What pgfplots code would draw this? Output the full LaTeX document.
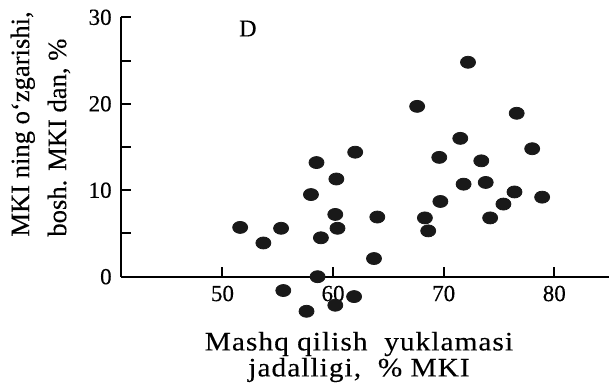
\documentclass[border=0pt]{standalone}
\usepackage{pgfplots}
\pgfplotsset{compat=1.18}
\usepackage{fontspec}
\setmainfont{Liberation Serif}[FakeBold=0.3]
\newfontfamily\xlabfont{Liberation Serif}[FakeStretch=1.1, LetterSpace=4, FakeBold=0.3]
\begin{document}
\begin{tikzpicture}
\path[use as bounding box] (0,0) rectangle (304.5pt,192.5pt);
\begin{axis}[
  at={(60.35pt,54.15pt)}, anchor=south west,
  scale only axis, width=243.9pt, height=129.7pt,
  xmin=40.8, xmax=84.9, ymin=0, ymax=30,
  axis x line=bottom, axis y line=left,
  axis line style={-, line width=1pt, black},
  tick style={line width=1pt, black},
  tick align=inside,
  major tick length=5pt, minor tick length=5pt,
  xtick={50,60,70,80}, ytick={0,10,20,30}, minor ytick={5,15,25},
  clip=false,
  /pgf/number format/assume math mode=true,
  ticklabel style={font=\fontsize{11.5}{13}\selectfont},
  xticklabel style={yshift=-1pt},
  yticklabel style={xshift=-1pt},
  xlabel={Mashq qilish\ \ yuklamasi\\jadalligi,\ \ \% MKI},
  xlabel style={at={(axis description cs:0.4885,-0.408)}, anchor=south, inner sep=0pt, align=center, font=\xlabfont\fontsize{13.3}{13}\selectfont},
  ylabel={MKI ning o‘zgarishi,\\bosh. MKI dan, \%},
  ylabel style={at={(axis description cs:-0.1644,0.153)}, anchor=west, inner sep=0pt, align=left, font=\fontsize{13.3}{18.5}\selectfont},
]
\addplot[only marks, mark=*, mark size=3pt, mark options={xscale=1.25, fill=black!90, draw=black!90}] coordinates {
(51.6,5.7) (53.7,3.9) (55.3,5.6) (55.5,-1.6) (57.6,-4.0) (58.0,9.5) (58.5,13.2)
(58.6,0) (58.9,4.5) (60.2,7.2) (60.4,5.6) (60.3,11.3) (60.2,-3.3) (61.9,-2.3)
(62.0,14.4) (63.7,2.1) (64.0,6.9) (67.6,19.7) (68.3,6.8) (68.6,5.3) (69.7,8.7)
(69.6,13.8) (71.5,16.0) (71.8,10.7) (72.2,24.8) (73.4,13.4) (73.8,10.9) (74.2,6.8)
(75.4,8.4) (76.4,9.8) (76.6,18.9) (78.0,14.8) (78.9,9.2)
};
\node[font=\fontsize{12}{14}\selectfont] at (axis cs:52.3,28.7) {D};
\end{axis}
\end{tikzpicture}
\end{document}
